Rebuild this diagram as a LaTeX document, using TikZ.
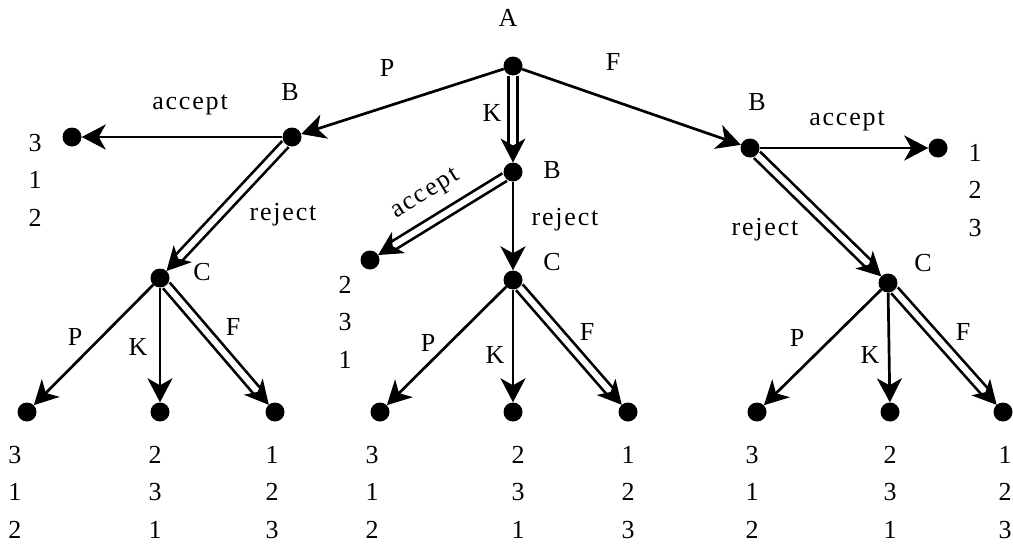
\documentclass[tikz,border=0pt]{standalone}
\usepackage{fontspec}
\setmainfont{Liberation Serif}
\newfontfamily\spacedfont[LetterSpace=7]{Liberation Serif}
\usetikzlibrary{arrows.meta,calc}
% double connector with a solid stealth head drawn on top of it
\newcommand\dblarr[2]{%
  \draw[dbl,shorten >=17pt] (#1) -- (#2);
  \path ($(#2.center)!9.5pt!(#1.center)$) coordinate (tipT)
        ($(#2.center)!33.5pt!(#1.center)$) coordinate (tipB)
        ($(#2.center)!26.5pt!(#1.center)$) coordinate (tipI);
  \fill[black] ($(tipB)!12.5pt!90:(tipT)$) -- (tipT) -- ($(tipB)!12.5pt!-90:(tipT)$) -- (tipI) -- cycle;}
\begin{document}
\begin{tikzpicture}[x=1pt,y=-1pt,
  dot/.style={circle,fill=black,inner sep=0pt,minimum size=19pt},
  lbl/.style={font=\fontsize{26}{26}\selectfont,inner sep=0pt},
  word/.style={font=\fontsize{26}{26}\spacedfont,inner sep=0pt},
  nums/.style={font=\fontsize{26}{37.5}\selectfont,align=center,inner sep=0pt,anchor=north},
  arr/.style={line width=2.7pt,-{Stealth[length=24pt,width=25pt,inset=7pt]}},
  dbl/.style={line width=2.7pt,double distance=6pt,double=white}]
\useasboundingbox (0,0) rectangle (1013,546);
% nodes
\node[dot] (A) at (513,66) {};
\node[dot] (Bl) at (292,137) {};
\node[dot] (Bm) at (513,172) {};
\node[dot] (Br) at (750,148) {};
\node[dot] (La) at (72,137) {};
\node[dot] (Ma) at (370,260) {};
\node[dot] (Ra) at (938,148) {};
\node[dot] (Cl) at (160,278) {};
\node[dot] (Cm) at (513,280) {};
\node[dot] (Cr) at (888,283) {};
\node[dot] (Lp) at (27,412) {};
\node[dot] (Lk) at (160,412) {};
\node[dot] (Lf) at (275,412) {};
\node[dot] (Mp) at (380,412) {};
\node[dot] (Mk) at (513,412) {};
\node[dot] (Mf) at (628,412) {};
\node[dot] (Rp) at (757,412) {};
\node[dot] (Rk) at (890,412) {};
\node[dot] (Rf) at (1003,412) {};
% edges
\draw[arr] (A) -- (Bl);
\dblarr{A}{Bm}
\draw[arr] (A) -- (Br);
\draw[arr] (Bl) -- (La);
\dblarr{Bl}{Cl}
\dblarr{Bm}{Ma}
\draw[arr] (Bm) -- (Cm);
\draw[arr] (Br) -- (Ra);
\dblarr{Br}{Cr}
\draw[arr] (Cl) -- (Lp);
\draw[arr] (Cl) -- (Lk);
\dblarr{Cl}{Lf}
\draw[arr] (Cm) -- (Mp);
\draw[arr] (Cm) -- (Mk);
\dblarr{Cm}{Mf}
\draw[arr] (Cr) -- (Rp);
\draw[arr] (Cr) -- (Rk);
\dblarr{Cr}{Rf}
% labels
\node[lbl] (tA) at (508,18) {A};
\node[lbl] (tP) at (387,68) {P};
\node[lbl] (tK) at (492,113) {K};
\node[lbl] (tF) at (613,62) {F};
\node[lbl] (tBl) at (290,92) {B};
\node[lbl] (tBm) at (552,170) {B};
\node[lbl] (tBr) at (757,102) {B};
\node[word] (aL) at (190,105) {accept};
\node[word] (rL) at (283,215) {reject};
\node[lbl] (tCl) at (202,272) {C};
\node[word,rotate=31.6] (aM) at (426,195) {accept};
\node[word] (rM) at (565,220) {reject};
\node[lbl] (tCm) at (552,262) {C};
\node[word] (aR) at (847,121) {accept};
\node[word] (rR) at (765,230) {reject};
\node[lbl] (tCr) at (923,263) {C};
\node[lbl] (lP) at (75,337) {P};
\node[lbl] (lK) at (138,347) {K};
\node[lbl] (lF) at (233,327) {F};
\node[lbl] (mP) at (428,343) {P};
\node[lbl] (mK) at (495,355) {K};
\node[lbl] (mF) at (587,332) {F};
\node[lbl] (rP) at (797,338) {P};
\node[lbl] (rK) at (870,355) {K};
\node[lbl] (rF) at (963,332) {F};
% digit columns
\node[nums] (d1) at (35,134) {3\\1\\2};
\node[nums] (d2) at (345,276) {2\\3\\1};
\node[nums] (d3) at (975,144) {1\\2\\3};
\node[nums] (d4) at (15,446) {3\\1\\2};
\node[nums] (d5) at (155,446) {2\\3\\1};
\node[nums] (d6) at (272,446) {1\\2\\3};
\node[nums] (d7) at (372,446) {3\\1\\2};
\node[nums] (d8) at (518,446) {2\\3\\1};
\node[nums] (d9) at (628,446) {1\\2\\3};
\node[nums] (d10) at (752,446) {3\\1\\2};
\node[nums] (d11) at (890,446) {2\\3\\1};
\node[nums] (d12) at (1005,446) {1\\2\\3};
\end{tikzpicture}
\end{document}
